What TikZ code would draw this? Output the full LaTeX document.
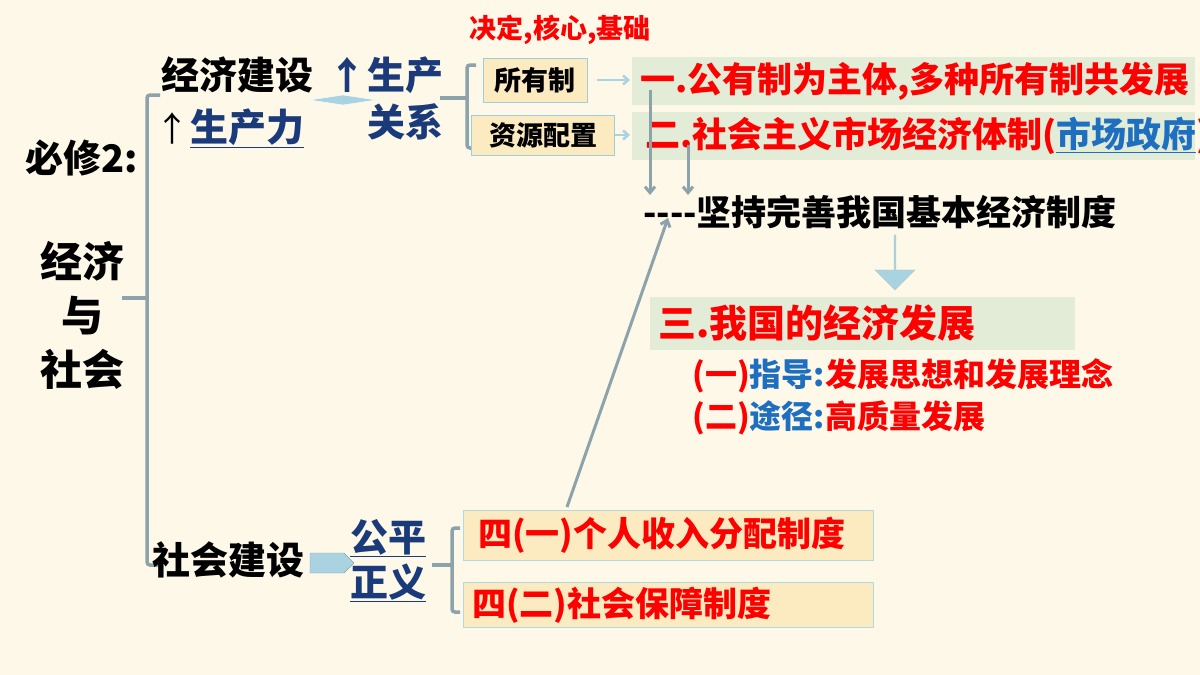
\documentclass[tikz,border=0pt]{standalone}
\usepackage{fontspec}
\setmainfont{Noto Sans CJK SC}
\usetikzlibrary{arrows.meta,shapes.arrows,positioning}
\definecolor{bgcream}{HTML}{FDF8E8}
\definecolor{brk}{HTML}{8CA3AC}
\definecolor{navy}{HTML}{1B3A7A}
\definecolor{tipblue}{HTML}{1F6FC0}
\definecolor{boxfill}{HTML}{FCEBC0}
\definecolor{boxline}{HTML}{9CCFDD}
\definecolor{greenfill}{HTML}{E2ECD6}
\definecolor{lightarr}{HTML}{A9D3E0}
\tikzset{
  bracket/.style={brk, line width=3.5pt, rounded corners=3pt},
  head/.style={font=\bfseries\fontsize{38}{42}\selectfont, inner sep=0pt},
  rel/.style={head, text=navy},
  tagbox/.style={draw=boxline, fill=boxfill, line width=1pt, inner sep=0pt, font=\bfseries\fontsize{27}{30}\selectfont},
  redtxt/.style={text=red, font=\bfseries\fontsize{35}{38}\selectfont, inner sep=0pt, anchor=west},
  band/.style={fill=greenfill, draw=none},
  graya/.style={-{Straight Barb[length=6pt,width=10pt]}, brk, line width=3pt},
  lighta/.style={-{Straight Barb[length=5pt,width=9pt]}, lightarr, line width=2.5pt}
}
\begin{document}
\begin{tikzpicture}[x=1pt,y=-1pt]
  \fill[bgcream] (0,0) rectangle (1200,675);
  \useasboundingbox (0,0) rectangle (1200,675);

  % left column
  \node[head] (bx) at (82,158) {必修2:};
  \node[head, align=center, font=\bfseries\fontsize{42}{54}\selectfont] (jj) at (82,315) {经济\\与\\社会};
  \draw[bracket] (160,95) -- (147,95) -- (147,565) -- (160,565);
  \draw[bracket] (122,298) -- (147,298);

  % economy branch
  \node[head] (jjjs) at (237,75) {经济建设};
  \node[head, font=\fontsize{34}{38}\selectfont] (up1) at (172,128) {↑};
  \node[rel, anchor=west] (scl) at (190,128) {\underline{生产力}};
  \fill[lightarr, draw=white] (310,100) -- (343,95) -- (376,100) -- (343,105) -- cycle;
  \node[rel] (up2) at (347,75) {↑};
  \node[rel] (sc) at (405,75) {生产};
  \node[rel] (gx) at (405,122) {关系};
  \draw[bracket] (440,98) -- (467,98);
  \draw[bracket] (476,65) -- (467,65) -- (467,148) -- (476,148);

  \node[text=red, font=\bfseries\fontsize{27}{30}\selectfont] (jd) at (560,30) {决定,核心,基础};
  \node[tagbox, minimum width=104pt, minimum height=44pt] (syz) at (535,80) {所有制};
  \node[tagbox, minimum width=143pt, minimum height=40pt] (zypz) at (543,135) {资源配置};

  \fill[band] (632,57) rectangle (1195,105);
  \fill[band] (632,112) rectangle (1195,160);
  \node[redtxt] (r1) at (640,81) {一.公有制为主体,多种所有制共发展};
  \node[redtxt] (r2) at (645,136) {二.社会主义市场经济体制(\textcolor{tipblue}{\underline{市场政府}})};
  \draw[lighta] (597,80) -- (630,80);
  \draw[lighta] (zypz.east) -- (630,135);

  \coordinate (d1) at (650,90);
  \coordinate (d2) at (688,145);
  \node[head, anchor=west, font=\bfseries\fontsize{35}{38}\selectfont] (jc) at (643,212) {{-}{-}{-}{-}坚持完善我国基本经济制度};
  \draw[graya] (d1) -- (650,195);
  \draw[graya] (d2) -- (688,195);

  \node[single arrow, shape border rotate=270, fill=lightarr, draw=brk!60, minimum height=55pt, minimum width=40pt, single arrow head extend=4pt, inner sep=0pt] (big) at (895,262) {};

  \fill[band] (650,297) rectangle (1075,350);
  \node[redtxt, font=\bfseries\fontsize{38}{40}\selectfont] (r3) at (658,323) {三.我国的经济发展};
  \node[redtxt, font=\bfseries\fontsize{32}{35}\selectfont] (g1) at (692,376) {(一)\textcolor{tipblue}{指导:}发展思想和发展理念};
  \node[redtxt, font=\bfseries\fontsize{32}{35}\selectfont] (g2) at (692,418) {(二)\textcolor{tipblue}{途径:}高质量发展};

  % society branch
  \node[head] (shjs) at (228,560) {社会建设};
  \node[single arrow, fill=lightarr, draw=brk, minimum height=44pt, minimum width=20pt, single arrow head extend=0pt, inner sep=0pt] (sa) at (327,563) {};
  \node[rel] (gp) at (388,538) {\underline{公平}};
  \node[rel] (zy) at (388,583) {\underline{正义}};
  \draw[bracket] (432,565) -- (452,565);
  \draw[bracket] (460,528) -- (452,528) -- (452,612) -- (460,612);
  \node[tagbox, minimum width=410pt, minimum height=50pt, draw=boxline!80] (s1) at (668,535) {};
  \node[redtxt, font=\bfseries\fontsize{34}{37}\selectfont] at (478,535) {四(一)个人收入分配制度};
  \node[tagbox, minimum width=410pt, minimum height=45pt, draw=boxline!80] (s2) at (668,605) {};
  \node[redtxt, font=\bfseries\fontsize{34}{37}\selectfont] at (472,605) {四(二)社会保障制度};
  \draw[graya] (567,507) -- (668,218);
\end{tikzpicture}
\end{document}
